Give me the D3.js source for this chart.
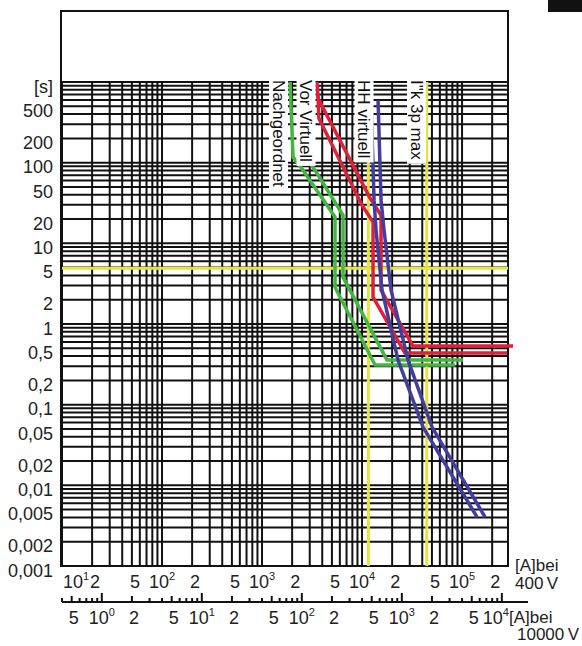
<!DOCTYPE html>
<html><head><meta charset="utf-8">
<script src="https://cdn.jsdelivr.net/npm/d3@7"></script>
<style>
html,body{margin:0;padding:0;background:#fff;}
svg{display:block;font-family:"Liberation Sans",Arial,sans-serif;}
</style></head><body>
<svg id="c" width="582" height="646"></svg>
<script>
// ---------- data ----------
const timeTicks  = [0.001,0.002,0.005,0.01,0.02,0.05,0.1,0.2,0.5,1,2,5,10,20,50,100,200,500];
const timeLabels = ["0,001","0,002","0,005","0,01","0,02","0,05","0,1","0,2","0,5","1","2","5","10","20","50","100","200","500"];
const timeUnit = "[s]";

const ampTicks400  = [10,20,50,100,200,500,1000,2000,5000,10000,20000,50000,100000,200000];
const ampLabels400 = [["10","1"],["2"],["5"],["10","2"],["2"],["5"],["10","3"],["2"],["5"],["10","4"],["2"],["5"],["10","5"],["2"]];
const ampUnit400 = ["[A]bei","400\u2009V"];

const ampTicks10k  = [0.5,1,2,5,10,20,50,100,200,500,1000,2000,5000,10000];
const ampLabels10k = [["5"],["10","0"],["2"],["5"],["10","1"],["2"],["5"],["10","2"],["2"],["5"],["10","3"],["2"],["5"],["10","4"]];
const ampUnit10k = ["[A]bei","10000\u2009V"];
const voltageRatio = 10000/400;

// characteristic bands [current A @400V, time s]
const nachgeordnetMin = [[1905,1000],[2042,117],[2570,80.7],[5370,21.2],[5370,2.86],[13490,0.31],[85110,0.31]];
const nachgeordnetMax = [[2399,1000],[2480,140],[3388,80.7],[6457,22.3],[6457,3.81],[17780,0.357],[102300,0.357]];
const vorVirtuellMin  = [[3631,700],[3700,356],[10000,29.7],[12882,18.3],[12882,2.15],[26915,0.436],[281838,0.436]];
const vorVirtuellMax  = [[3548,1000],[3631,630],[12023,36.3],[15488,22.3],[15488,2.63],[32359,0.532],[323594,0.532]];
const hhVirtuellMin   = [[12303,595],[13183,34.3],[13804,14.6],[15849,2.63],[22909,0.357],[40738,0.0527],[141254,0.00404]];
const hhVirtuellMax   = [[14454,595],[15488,34.3],[16596,14.6],[19498,2.63],[28840,0.357],[50119,0.0527],[169824,0.00404]];

const markerCurrents = [11560, 44400];   // yellow verticals
const markerTime = 4.9;                  // yellow horizontal

const curveLabels   = ["Nachgeordnet","Vor Virtuell","HH virtuell","I\"k 3p max"];
const curveLabelAt  = [1462, 2754, 10471, 35075];

// ---------- drawing ----------
const svg = d3.select("#c");
const L = 62, R = 508, T = 82, B = 566;
const x = d3.scaleLog().domain([10, 2.88e5]).range([L, R]);
const y = d3.scaleLog().domain([0.001, 1000]).range([B, T]);
const x10k = d3.scaleLog().domain([10/voltageRatio, 2.88e5/voltageRatio]).range([L, R]);
const FS = 18;

const gridCol = "#111";
svg.append("rect").attr("x",61).attr("y",11).attr("width",447).attr("height",555)
  .attr("fill","none").attr("stroke",gridCol).attr("stroke-width",2);

function minors(lo, hi){
  const out=[];
  for(let e=Math.floor(Math.log10(lo)); e<=Math.ceil(Math.log10(hi)); e++){
    for(let m=1;m<10;m++){ const v=m*Math.pow(10,e); if(v>=lo*0.9999 && v<=hi*1.0001) out.push(v); }
  }
  return out;
}
const grid = svg.append("g").attr("stroke",gridCol).attr("stroke-width",2);
minors(0.001,1000).forEach(v=>{
  grid.append("line").attr("x1",L).attr("x2",R).attr("y1",y(v)).attr("y2",y(v));
});
minors(10,2.88e5).forEach(v=>{
  grid.append("line").attr("y1",T).attr("y2",B).attr("x1",x(v)).attr("x2",x(v));
});

// yellow markers
const yel = "#e4e43e";
const ym = svg.append("g").attr("stroke",yel).attr("stroke-width",3);
markerCurrents.forEach(c=>{
  ym.append("line").attr("x1",x(c)).attr("x2",x(c)).attr("y1",T).attr("y2",B);
});
ym.append("line").attr("x1",L).attr("x2",R).attr("y1",y(markerTime)).attr("y2",y(markerTime));

// curves
const line = d3.line().x(d=>x(d[0])).y(d=>y(d[1]));
const bands = [
  [nachgeordnetMin,"#44b540"],[nachgeordnetMax,"#44b540"],
  [vorVirtuellMin,"#e0203a"],[vorVirtuellMax,"#e0203a"],
  [hhVirtuellMin,"#423d9e"],[hhVirtuellMax,"#423d9e"]
];
bands.forEach(([d,c])=>{
  svg.append("path").attr("d",line(d)).attr("fill","none").attr("stroke",c)
    .attr("stroke-width",3.5).attr("stroke-linejoin","round").attr("stroke-linecap","butt");
});

// curve labels (rotated, white box)
curveLabels.forEach((t,i)=>{
  const cx = x(curveLabelAt[i]);
  const g = svg.append("g");
  const txt = g.append("text").attr("transform",`translate(${cx-6},80) rotate(90)`)
    .attr("font-size",17).attr("fill","#111").text(t);
  const len = txt.node().getComputedTextLength();
  g.insert("rect","text").attr("x",cx-9.5).attr("y",77).attr("width",19).attr("height",len+7).attr("fill","#fff");
});

// y labels
const tcol = "#222";
const yl = svg.append("g").attr("font-size",FS).attr("fill",tcol).attr("text-anchor","end");
timeTicks.forEach((v,i)=>{
  yl.append("text").attr("x",53).attr("y",y(v)+6).attr("dominant-baseline","middle").text(timeLabels[i]);
});
yl.append("text").attr("x",53).attr("y",y(1000)+6).attr("dominant-baseline","middle").text(timeUnit);

function supLabel(g, px, py, parts, anchor){
  const t = g.append("text").attr("x",px).attr("y",py).attr("text-anchor",anchor||"middle")
    .attr("dominant-baseline","middle").attr("font-size",FS).attr("fill",tcol);
  t.append("tspan").text(parts[0]);
  if(parts[1]!==undefined) t.append("tspan").attr("font-size",11).attr("dy",-6).text(parts[1]);
  return t;
}
const xl = svg.append("g");
ampTicks400.forEach((v,i)=>{
  const p = ampLabels400[i];
  let px = x(v);
  if(p.length===1) px += 3;
  if(i===0) px = 76;
  supLabel(xl, px, 583, p);
});
xl.append("text").attr("x",515).attr("y",567).attr("dominant-baseline","middle").attr("font-size",17).attr("fill",tcol).text(ampUnit400[0]);
xl.append("text").attr("x",515).attr("y",585).attr("dominant-baseline","middle").attr("font-size",17).attr("fill",tcol).text(ampUnit400[1]);

// lower axis (10 kV)
const AY = 602;
svg.append("line").attr("x1",L).attr("x2",528).attr("y1",AY).attr("y2",AY).attr("stroke",gridCol).attr("stroke-width",2);
minors(0.4,10000).forEach(v=>{
  const m = Math.round(v/Math.pow(10,Math.floor(Math.log10(v)+1e-9)));
  const h = (m===1)?9:(m===2||m===5)?6:4;
  svg.append("line").attr("x1",x10k(v)).attr("x2",x10k(v)).attr("y1",AY).attr("y2",AY-h)
    .attr("stroke",gridCol).attr("stroke-width",2);
});
ampTicks10k.forEach((v,i)=>{
  const p = ampLabels10k[i];
  let px = x10k(v);
  if(p.length===1) px += 2;
  if(i===ampTicks10k.length-1) px -= 6;
  supLabel(xl, px, 619, p);
});
xl.append("text").attr("x",509).attr("y",619).attr("dominant-baseline","middle").attr("font-size",17).attr("fill",tcol).text(ampUnit10k[0]);
xl.append("text").attr("x",517).attr("y",636).attr("dominant-baseline","middle").attr("font-size",17).attr("fill",tcol).text(ampUnit10k[1]);

// top-right corner mark
svg.append("rect").attr("x",548).attr("y",0).attr("width",34).attr("height",12).attr("fill","#111");
</script>
</body></html>
